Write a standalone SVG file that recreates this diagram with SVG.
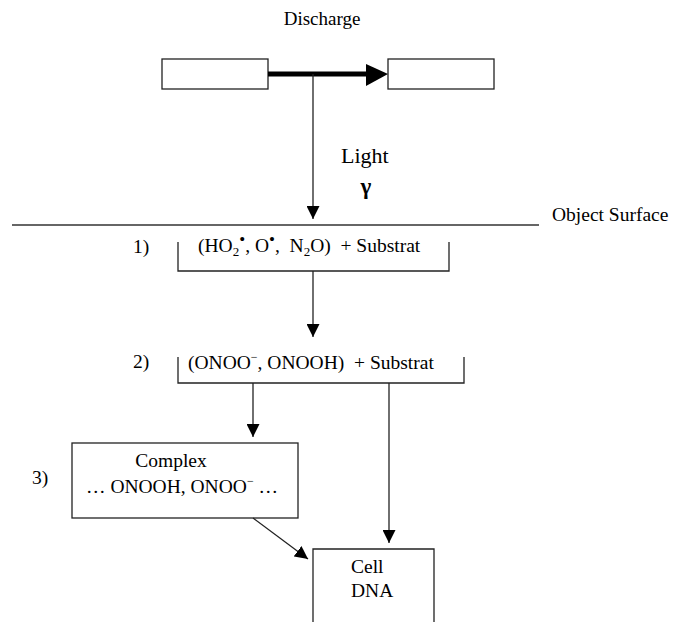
<svg xmlns="http://www.w3.org/2000/svg" width="673" height="622" viewBox="0 0 673 622">
<style>
text { font-family: "Liberation Serif", "Times New Roman", serif; font-size: 19.5px; fill: #000; }
.box { fill: #fff; stroke: #222; stroke-width: 1.3; }
.brk { fill: none; stroke: #222; stroke-width: 1.3; }
.con { fill: none; stroke: #222; stroke-width: 1.3; }
.sub { font-size: 13px; }
.sup { font-size: 17px; }
.mn { font-size: 12px; }
</style>
<defs>
<marker id="ah" viewBox="0 0 13 13" refX="13" refY="6.5" markerWidth="13" markerHeight="13" markerUnits="userSpaceOnUse" orient="auto">
<path d="M0,0 L13,6.5 L0,13 z" fill="#000"/>
</marker>
</defs>
<rect width="673" height="622" fill="#fff"/>

<g id="title">
<text x="322" y="25" text-anchor="middle" style="font-size:19px">Discharge</text>
</g>

<g id="surface">
<line x1="12" y1="225" x2="539" y2="225" stroke="#333" stroke-width="1.3"/>
<text x="552" y="221">Object Surface</text>
</g>

<g id="light-label">
<text x="341" y="163" style="font-size:22px">Light</text>
<text x="366" y="194" text-anchor="middle" style="font-size:23px;font-weight:bold">γ</text>
</g>

<g id="electrode-left"><rect class="box" x="162" y="59" width="106" height="30"/></g>
<g id="electrode-right"><rect class="box" x="388" y="59" width="106" height="30"/></g>

<g id="step1">
<path class="brk" d="M178,242 V271 H449 V242"/>
<text x="133" y="253">1)</text>
<text x="198" y="252" xml:space="preserve">(HO<tspan class="sub" dy="4">2</tspan><tspan class="sup" dy="-11">•</tspan><tspan dy="7">, O</tspan><tspan class="sup" dy="-7">•</tspan><tspan dy="7">,  N</tspan><tspan class="sub" dy="4">2</tspan><tspan dy="-4">O)  + Substrat</tspan></text>
</g>

<g id="step2">
<path class="brk" d="M178,357 V383 H464 V357"/>
<text x="133" y="368">2)</text>
<text x="188" y="369" xml:space="preserve">(ONOO<tspan class="mn" dy="-8">−</tspan><tspan dy="8">, ONOOH)  + Substrat</tspan></text>
</g>

<g id="complex">
<rect class="box" x="72" y="443" width="226" height="75"/>
<text x="32" y="484">3)</text>
<text x="171" y="467" text-anchor="middle">Complex</text>
<text x="86" y="493" xml:space="preserve">… ONOOH, ONOO<tspan class="mn" dy="-8">−</tspan><tspan dy="8"> …</tspan></text>
</g>

<g id="cell">
<path class="box" d="M313,630 V549 H434 V630"/>
<text x="351" y="573">Cell</text>
<text x="351" y="597">DNA</text>
</g>

<g id="connectors">
<line x1="268" y1="74" x2="368" y2="74" stroke="#000" stroke-width="5"/>
<path d="M366,64 L388,74 L366,86 z" fill="#000"/>
<line class="con" x1="313" y1="74" x2="313" y2="219" marker-end="url(#ah)"/>
<line class="con" x1="313" y1="271" x2="313" y2="337" marker-end="url(#ah)"/>
<line class="con" x1="253" y1="383" x2="253" y2="437" marker-end="url(#ah)"/>
<line class="con" x1="389" y1="383" x2="389" y2="543" marker-end="url(#ah)"/>
<line class="con" x1="253" y1="518" x2="308" y2="559" marker-end="url(#ah)"/>
</g>
</svg>
